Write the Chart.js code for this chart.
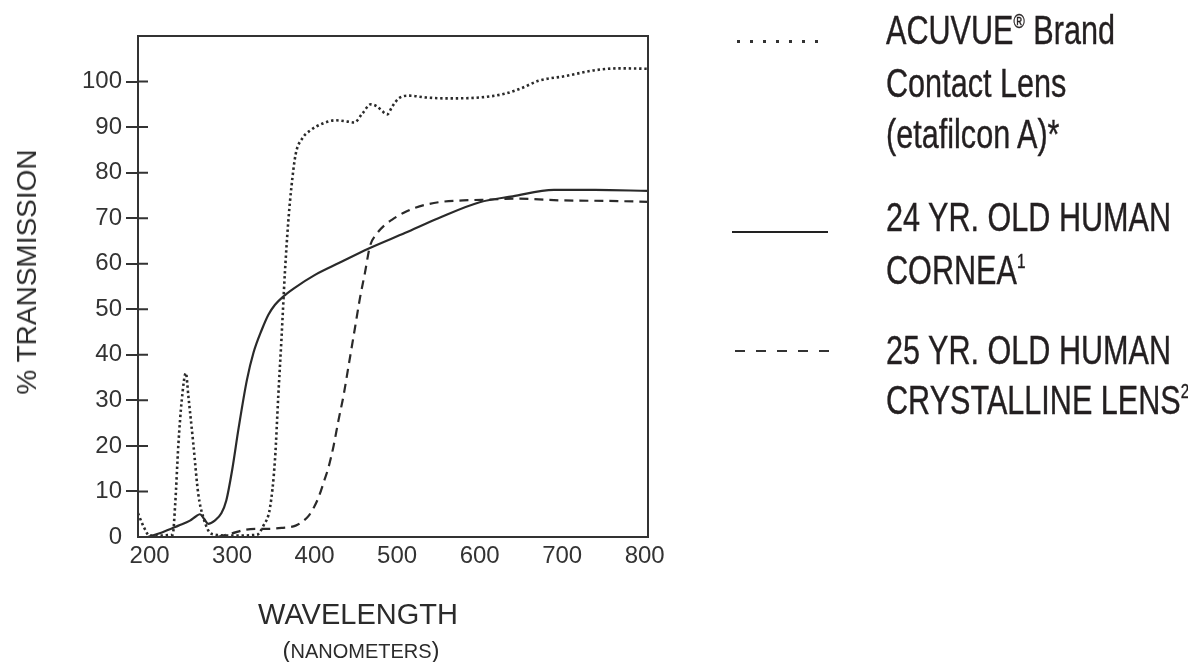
<!DOCTYPE html>
<html>
<head>
<meta charset="utf-8">
<title>Transmission</title>
<script src="https://cdn.jsdelivr.net/npm/chart.js@4.4.1/dist/chart.umd.min.js"></script>
<style>
    html, body {
        margin: 0;
        padding: 0;
        background: #fff;
        width: 1188px;
        height: 662px;
        overflow: hidden;
        font-family: "Liberation Sans", Arial, sans-serif;
        color: #2b2b2b;
    }
    #wrap {
        position: absolute;
        left: 0;
        top: 0;
        width: 1188px;
        height: 662px;
    }
    .txt {
        position: absolute;
        white-space: nowrap;
        line-height: 1;
    }
    .legend-line {
        position: absolute;
        left: 886px;
        font-size: 40px;
        line-height: 40px;
        white-space: nowrap;
        color: #231f20;
        -webkit-text-stroke: 0.4px #231f20;
        transform: scaleX(0.765);
        transform-origin: left center;
    }
    .legend-line sup {
        font-size: 0.5em;
        vertical-align: 0.8em;
        line-height: 0;
    }
    .sample {
        position: absolute;
    }
</style>
</head>
<body>
<div id="wrap"><canvas id="transmissionChart"></canvas></div>

<!-- axis titles -->
<div class="txt" style="left:27px;top:272px;font-size:28px;transform:translate(-50%,-50%) rotate(-90deg);">% TRANSMISSION</div>
<div class="txt" style="left:358px;top:614px;font-size:29px;transform:translate(-50%,-50%);">WAVELENGTH</div>
<div class="txt" style="left:361px;top:650px;font-size:20px;transform:translate(-50%,-50%);"><span style="font-size:24px">(</span>NANOMETERS<span style="font-size:24px">)</span></div>

<!-- legend -->
<div class="sample" style="left:737px;top:40px;width:81px;height:3px;background:repeating-linear-gradient(to right,#333 0 3px,transparent 3px 13px);"></div>
<div class="legend-line" style="top:10px;">ACUVUE<sup>®</sup> Brand</div>
<div class="legend-line" style="top:63px;">Contact Lens</div>
<div class="legend-line" style="top:114px;">(etafilcon A)*</div>

<div class="sample" style="left:732px;top:231px;width:96px;height:2px;background:#222;"></div>
<div class="legend-line" style="top:197px;">24 YR. OLD HUMAN</div>
<div class="legend-line" style="top:250px;">CORNEA<sup>1</sup></div>

<div class="sample" style="left:735px;top:350px;width:94px;height:2px;background:repeating-linear-gradient(to right,#333 0 10px,transparent 10px 21px);"></div>
<div class="legend-line" style="top:330px;">25 YR. OLD HUMAN</div>
<div class="legend-line" style="top:380px;">CRYSTALLINE LENS<sup>2</sup></div>

<script>
// Tick values
const xTickValues = [200, 300, 400, 500, 600, 700, 800];
const yTickValues = [0, 10, 20, 30, 40, 50, 60, 70, 80, 90, 100];

// ACUVUE etafilcon A (dotted)
const acuvueNm = [186, 193, 200, 228, 231, 235, 239, 244, 247, 253, 259, 265, 275, 300, 330, 338, 346, 352, 356, 360,
    364, 368, 372, 377, 385, 395, 410, 425, 440, 448, 458, 468, 476, 482, 488, 494, 502, 515, 535, 560,
    600, 630, 650, 672, 704, 740, 770, 804];
const acuvuePct = [5.2, 2.2, 0.3, 0.5, 7, 20.5, 30, 36, 31, 20.5, 9.5, 4.4, 0.7, 0.3, 0.5, 2.5, 6.5, 17, 31, 44,
    58, 69, 77, 84, 87.5, 89.3, 90.8, 91.5, 91.2, 91, 93, 95, 94.5, 93.5, 92.8, 94.5, 96.3, 96.9, 96.5, 96.3,
    96.5, 97.3, 98.5, 100.2, 101.2, 102.5, 102.9, 102.8];

// 24 yr old human cornea (solid)
const corneaNm = [198, 215, 235, 249, 256, 261, 266, 271, 279, 287, 293, 300, 308, 318, 326, 336, 344, 352, 362, 375,
    400, 430, 465, 510, 550, 600, 640, 690, 740, 804];
const corneaPct = [0, 1, 2.5, 3.6, 4.5, 5, 4, 2.9, 3.6, 5.2, 8, 14.6, 24, 34.5, 40.5, 45.5, 48.8, 51, 52.8, 54.6,
    57.5, 60.2, 63.3, 66.8, 70, 73.5, 74.8, 76.2, 76.2, 76];

// 25 yr old human crystalline lens (dashed)
const lensNm = [282, 300, 316, 330, 344, 360, 377, 386, 393, 400, 405, 411, 417, 423, 429, 435, 441, 449, 455, 461,
    467, 475, 485, 494, 508, 522, 550, 580, 615, 647, 700, 750, 804];
const lensPct = [0, 0.8, 1.6, 1.8, 1.8, 2, 2.5, 3.5, 4.7, 6.8, 8.8, 12, 15.4, 20, 25.7, 31, 37.4, 46, 52.5, 58,
    63.8, 66.5, 68.5, 69.7, 71.2, 72.3, 73.5, 73.9, 74.1, 74.3, 73.9, 73.8, 73.6];

const INK = '#2a2a2a';

document.addEventListener('DOMContentLoaded', function () {
    initializeChart();
});

/**
 * Pair up x and y arrays into points
 */
function toPoints(xs, ys) {
    return xs.map((x, i) => ({ x: x, y: ys[i] }));
}

/**
 * Frame around the plot plus the inner half of the y ticks
 */
const framePlugin = {
    id: 'frame',
    afterDatasetsDraw(chart) {
        const ctx = chart.ctx;
        const a = chart.chartArea;
        const y = chart.scales.y;
        ctx.save();
        ctx.strokeStyle = '#333';
        ctx.lineWidth = 2;
        ctx.strokeRect(a.left, a.top, a.right - a.left, a.bottom - a.top);
        ctx.beginPath();
        yTickValues.forEach(v => {
            if (v === 0) return;
            const py = y.getPixelForValue(v);
            ctx.moveTo(a.left, py);
            ctx.lineTo(a.left + 10, py);
        });
        ctx.stroke();
        ctx.restore();
    }
};

function initializeChart() {
    const ctx = document.getElementById('transmissionChart').getContext('2d');
    const tickFont = { family: '"Liberation Sans", Arial, sans-serif', size: 24 };

    new Chart(ctx, {
        type: 'line',
        data: {
            datasets: [
                {
                    label: 'ACUVUE Brand Contact Lens (etafilcon A)*',
                    data: toPoints(acuvueNm, acuvuePct),
                    borderColor: INK,
                    borderWidth: 2.6,
                    borderDash: [2.4, 2.8],
                    cubicInterpolationMode: 'monotone'
                },
                {
                    label: '24 YR. OLD HUMAN CORNEA',
                    data: toPoints(corneaNm, corneaPct),
                    borderColor: INK,
                    borderWidth: 2.2,
                    cubicInterpolationMode: 'monotone'
                },
                {
                    label: '25 YR. OLD HUMAN CRYSTALLINE LENS',
                    data: toPoints(lensNm, lensPct),
                    borderColor: INK,
                    borderWidth: 2.2,
                    borderDash: [9, 6],
                    cubicInterpolationMode: 'monotone'
                }
            ]
        },
        options: {
            responsive: true,
            maintainAspectRatio: false,
            animation: false,
            layout: {
                padding: { top: 36, right: 540, bottom: 0, left: 0 }
            },
            elements: {
                point: { radius: 0 }
            },
            plugins: {
                legend: { display: false },
                tooltip: { enabled: false }
            },
            scales: {
                x: {
                    type: 'linear',
                    min: 186,
                    max: 804,
                    border: { display: false },
                    grid: { display: false, drawTicks: false },
                    ticks: {
                        color: '#333',
                        font: tickFont,
                        padding: 5,
                        maxRotation: 0
                    },
                    afterBuildTicks: s => { s.ticks = xTickValues.map(v => ({ value: v })); },
                    afterFit: s => {
                        s.height = 125;
                        s.paddingLeft = 0;
                        s.paddingRight = 0;
                    }
                },
                y: {
                    min: 0,
                    max: 110,
                    border: { display: false },
                    grid: {
                        drawOnChartArea: false,
                        drawTicks: true,
                        tickLength: 12,
                        lineWidth: 2,
                        color: c => (c.tick && c.tick.value === 0) ? 'rgba(0,0,0,0)' : '#333'
                    },
                    ticks: {
                        color: '#333',
                        font: tickFont,
                        padding: 4
                    },
                    afterBuildTicks: s => { s.ticks = yTickValues.map(v => ({ value: v })); },
                    afterFit: s => {
                        s.width = 138;
                        s.paddingTop = 0;
                        s.paddingBottom = 0;
                    }
                }
            }
        },
        plugins: [framePlugin]
    });
}
</script>
</body>
</html>
